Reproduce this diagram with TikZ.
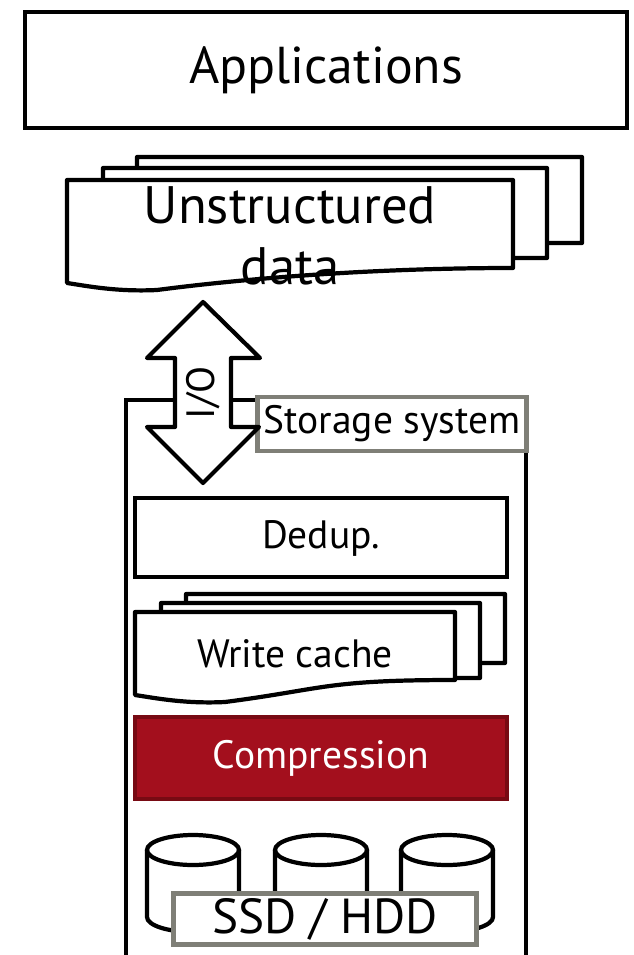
\documentclass[tikz,border=0pt]{standalone}
\usepackage{fontspec}
\setmainfont{PT Sans}
\usetikzlibrary{positioning}

\definecolor{fjred}{HTML}{A30F1D}
\definecolor{fjredline}{HTML}{780A13}
\definecolor{tagline}{HTML}{7F7F77}

\tikzset{
  box/.style={draw, line width=2.4pt, fill=white},
  tagbox/.style={draw=tagline, line width=2.4pt, fill=white, inner sep=1pt},
}

% document with a wavy bottom edge: left, top, right, bottom right, bottom left
\newcommand{\wavedoc}[5]{%
  \filldraw[box, line join=round] (#1,#2) -- (#3,#2) -- (#3,#4)
    .. controls ({#3-130},#4) and ({#1+190},{#5-6}) .. ({#1+90},{#5+7})
    .. controls ({#1+50},{#5+9}) and ({#1+20},{#5+3}) .. (#1,#5) -- cycle;}

\begin{document}
\begin{tikzpicture}[x=0.02cm, y=-0.02cm]
  \useasboundingbox (0,0) rectangle (633,955);

  % Aplicaciones
  \draw[box] (25,12) rectangle (627,128);
  \node (apps) at (326,70) {\fontsize{29.5}{34}\selectfont Applications};

  % Datos no estructurados (pila de documentos)
  \wavedoc{137}{157}{582}{243}{252}
  \wavedoc{103}{168}{547}{258}{268}
  \wavedoc{67}{180}{513}{268}{283}
  \node[align=center, font=\fontsize{30}{35}\selectfont] (udata) at (290,236)
    {Unstructured\\data};

  % Sistema de almacenamiento
  \draw[line width=2.4pt] (126,955) -- (126,400) -- (526,400) -- (526,955);
  \node[tagbox, minimum width=269*0.02cm, minimum height=54*0.02cm] (storage)
    at (392,424) {\fontsize{22.5}{26}\selectfont Storage system};

  % Flecha de E/S
  \filldraw[box, line join=round] (203,302) -- (260,358) -- (231,358) -- (231,427)
    -- (259,427) -- (203,483) -- (147,427) -- (175,427) -- (175,358)
    -- (147,358) -- cycle;
  \node[rotate=90] (io) at (203,393) {\fontsize{22.5}{26}\selectfont I/O};

  % Deduplicacion
  \draw[box] (135,498) rectangle (507,577);
  \node (dedup) at (321,538) {\fontsize{22.5}{26}\selectfont Dedup.};

  % Cache de escritura
  \wavedoc{186}{594}{505}{663}{672}
  \wavedoc{161}{603}{480}{678}{688}
  \wavedoc{135}{612}{455}{680}{695}
  \node (wcache) at (295,654) {\fontsize{22.5}{26}\selectfont Write cache};

  % Compresion
  \filldraw[draw=fjredline, fill=fjred, line width=2.4pt] (135,717) rectangle (507,799);
  \node[text=white] (comp) at (321,758) {\fontsize{22.5}{26}\selectfont Compression};

  % Discos
  \foreach \cx in {193,321,447} {
    \filldraw[box] (\cx-46,850) -- (\cx-46,917) arc[start angle=180, end angle=360,
      x radius=46, y radius=-15] -- (\cx+46,850);
    \draw[line width=2.4pt] (\cx,850) ellipse[x radius=46, y radius=15];
  }
  \node[tagbox, minimum width=303*0.02cm, minimum height=51*0.02cm] (disks)
    at (325,919) {\fontsize{28}{32}\selectfont SSD / HDD};
\end{tikzpicture}
\end{document}
